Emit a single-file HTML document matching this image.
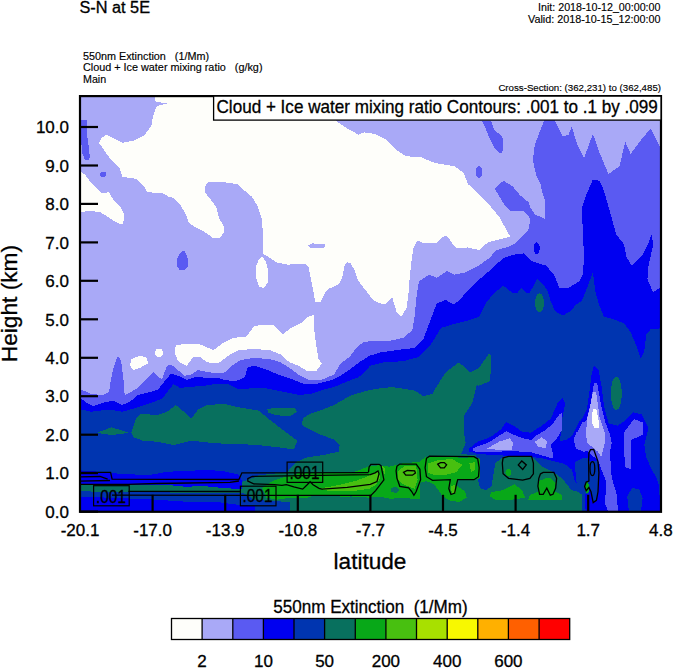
<!DOCTYPE html>
<html><head><meta charset="utf-8"><style>
html,body{margin:0;padding:0;background:#fff;}
svg{display:block;}
text{font-family:"Liberation Sans",sans-serif;fill:#000;stroke:#000;stroke-width:0.3px;}
.sm{stroke-width:0.15px;}
.lb{stroke-width:0.3px;}
</style></head><body>
<svg width="674" height="668" viewBox="0 0 674 668">
<rect x="0" y="0" width="674" height="668" fill="#fff"/>
<defs><clipPath id="pc"><rect x="80" y="96.1" width="581" height="415.70000000000005"/></clipPath></defs>
<g clip-path="url(#pc)" shape-rendering="crispEdges">
<rect x="80" y="96.1" width="581" height="415.70000000000005" fill="#a9a9f7"/>
<polygon fill="#fefefa" points="153.4,90 330,90 336.3,121.3 345.2,127.3 358.5,134.6 364.1,132.4 375,133.9 385.6,139.5 394.5,148.4 405.6,156.2 421.2,157.3 434.5,162.9 454.6,166.2 463.5,172.9 467.9,184 475,190.5 488,203.4 499.1,216.7 510.2,236.7 496.9,240.1 488,242.3 479,250.1 467.9,247.4 456.8,248.3 452.3,243.4 446.8,235.6 441.2,237.8 436.8,243.4 423.4,243.4 417.8,240.1 413.4,247.9 411.2,263.4 409.6,279 408.9,290 406.7,307.8 401.2,316.7 396.7,312.3 392.3,297.8 384.5,304.5 376.7,302.2 373,300 367.4,292.4 360,283.1 357.8,279.5 354.3,269.9 350.7,263.4 347.1,262.2 344.7,265.1 342.3,277.1 338.7,284.3 333.9,286.7 327.9,289.1 324.9,292.7 320.7,302.3 315.3,302.3 312.3,285.5 309.9,273.5 308.7,267.5 305.7,264 287.3,264.6 276.2,262.3 268.4,256.8 263.9,254.5 263.5,253.7 262.8,239 262.6,228.8 261.7,218.1 257.2,205.6 251.9,196.7 242.1,188.7 237.7,184.2 219.9,181.6 208.3,181.6 204.7,186.9 205.6,193.1 212.7,202 216.3,207.4 219,218.1 223.4,225.2 224.3,232.3 219.9,237.7 212.7,237.7 203.8,231.4 194.9,227 188.7,222.5 186,214.5 180.7,205.6 175.3,199.4 170,196.7 168.5,196.7 162.6,193 147.7,192.3 143.3,185.6 135.9,178.9 122.5,176.7 119.5,167.8 109.2,157.4 104,150 98.9,142.8 101.1,138.4 106.7,134.6 113.4,138.4 122.3,142.8 133.4,140.6 144.5,135 151.2,126.2 153.4,115 156.8,106 166.8,103.5 155.7,101.7"/>
<polygon fill="#fefefa" points="75,170.8 80,170.8 85.4,175.2 89.9,181.2 95.8,187.1 101,193 109.2,192.3 113.6,200.4 121,207.9 124,213.8 123.3,224.2 118,223.4 107.7,216.8 100.3,212.3 89.9,210.8 80,212.3 75,212.3"/>
<polygon fill="#fefefa" points="262.5,256.5 266,262 268.4,272 267.5,283 264,288 259,287 256.2,278 256.5,265 259,259"/>
<polygon fill="#fefefa" points="174.6,352.3 175.7,345.6 184.6,343.9 200.2,344.5 213.5,350.1 222.4,343.4 233.9,337.8 246.1,336.7 253.9,326.7 260.6,324.5 272.8,324.5 278.4,330.1 282.9,334.5 289.5,328.9 300.7,323.4 307,317 313.5,315 314,327.8 316.2,345.6 318.5,359 321.8,363.4 316.2,371.2 307.3,371.2 298.4,365.7 289.5,362.3 280.6,354.5 269.5,350.1 253.9,349 238.4,350.1 229.5,355 218,363.4 206.9,362.3 200.2,356.8 193.5,356.8 186.8,365.7 177.9,361.2"/>
<polygon fill="#fefefa" points="131.2,359 140.1,355.7 146.8,357.9 147.9,363.4 140.1,367.9 133.4,370.1 130.1,365.7"/>
<ellipse fill="#fefefa" cx="159" cy="352.8" rx="4" ry="4"/>
<polygon fill="#a9a9f7" points="308.1,245.4 312.3,243.4 324.3,244.2 325.5,246 323.1,248.4 311.1,248.4"/>
<polygon fill="#5a5af2" points="81,119.5 86.7,119.5 87,135 88.5,145 89.9,156.7 89.1,160.4 84.7,159.6 82.5,153.7 81,140"/>
<ellipse fill="#5a5af2" cx="103.2" cy="174.2" rx="3.3" ry="2.6"/>
<polygon fill="#5a5af2" points="482.4,121.3 491.3,121.3 494.6,130.6 502.4,136.2 503.5,148.4 501.3,154 494.6,148.4 489.1,137.3 485.7,128.4"/>
<ellipse fill="#5a5af2" cx="479" cy="171.8" rx="3.3" ry="6"/>
<polygon fill="#5a5af2" points="182.5,250.5 184.5,251.5 187,256 188.4,262 187.5,267.5 184,270.3 179.5,269.5 176.5,265 176.5,260 179,254.5"/>
<polygon fill="#5a5af2" points="494.6,188.5 503.5,180.7 512.4,186.2 520,195.1 528.4,202.2 530.6,207.8 535,214.5 545,218.9 545,201.1 541.7,190 540.6,184 536.1,175.1 532.8,159.5 535,144 543.9,121.3 543.9,90 555.1,90 555.1,121.3 562.8,136.2 568.4,135.1 571.8,126.2 576.2,141.7 584,158.4 592.9,133.9 599.6,152.9 608.5,174 619.6,166.2 625.2,141.7 630.7,154 639.6,141.7 650.8,128.4 661,149.5 670,149.5 670,520 75,520 75,386.8 80,386.8 80.7,389.5 91.4,393.9 102.5,395 109.2,391.7 110,385 113.4,367.9 117.8,355.7 121.2,361.2 123.4,379 124.7,395 131.4,391.7 137.9,387.9 146.8,379 153.4,372.3 157.9,376.8 162.3,379 166.8,365.7 171.2,364.6 177.9,370.1 184.6,375.7 191.3,374.6 198,370.1 209.1,372.3 218,373.5 225,372.3 231.7,365.7 240.6,360.1 253.9,357.9 269.5,359 280.6,362.3 289.5,367.9 298.4,374.6 309.6,380.1 320.7,380.1 334.1,374.6 340.7,363.4 349.6,356.8 356.3,347.9 363,342.3 370,341.2 387.8,341.2 403.4,337.8 412.3,330.1 414.5,316.7 416.7,295 419,281.2 429,274.6 436.8,277.9 446.8,271.2 454.6,274.6 465.7,272.3 476.8,266.8 488,259 496.9,250.1 508,246.8 515,243.4 519.5,239 528.4,230 530.6,218.9 523.9,211.1 510.2,211.1 503.5,203.4"/>
<polygon fill="#0000f0" points="463.5,295 474.6,283.5 490.2,270.1 503.5,257.9 514.7,254.5 523.9,253.4 531.7,261.2 546.2,265.7 553.9,274.6 559.5,287.9 568.4,287.9 579.5,281.2 582.9,274.6 584,256.8 581.8,207.8 586.2,195 592.9,179.6 599.6,180.7 604,190.7 605.1,195 610.7,214.5 616.3,234.5 624.1,244.5 626.3,256.8 631.8,265.7 641.9,255.7 648.5,243.4 651.9,233.4 653,245.6 648.5,265.7 647.4,279 653,292.4 659.7,287.9 670,287 670,520 75,520 75,398 80.7,398.4 86.9,402.8 93.6,406.1 102.5,402.8 113.6,400.6 122.5,405 131.4,400.6 138.1,395 151.4,391.7 158.1,389.5 164.6,381.2 171.2,373.5 177.9,375.7 186.8,380.1 195.7,376.8 206.9,377.9 218,377.9 225,380.1 236.1,381.2 245,376.8 247.3,367.9 253.9,365.7 265.1,369 278.4,374.6 291.8,379 302.9,383.5 318.5,383.5 331.8,380.1 340.7,375.7 351.9,367.9 360.8,361.2 369.7,355.7 381.1,352.3 396.7,350.1 414.5,347.9 423.4,339 430.1,321.2 436.8,303.4 445.7,300 453.5,304.5 461.2,298.9"/>
<ellipse fill="#0000f0" cx="536.7" cy="248.4" rx="3" ry="6"/>
<polygon fill="#0035b0" points="370,365.7 383.4,362.3 403.4,361.2 419,356.8 430.1,345.6 441.2,327.8 452.3,324.5 465.7,321.2 479,316.7 485.7,303.4 494,293 503.5,285.7 512.4,293 517.2,293 521.7,287.9 526,293 529.5,293 537.3,279 543.9,285.7 547.3,290 550.6,301.1 555.1,311.1 562.8,315.6 570.6,311.1 576.2,304.5 581.8,301.1 586.2,290 592.9,272.3 595.1,290 598.5,303.4 604,316.7 612.9,318.9 624.1,323.4 630.7,332.3 636.3,345.6 640.7,359 644.1,352.3 646.3,334.5 650.8,329 670,327.8 670,520 75,520 75,409.5 80.7,409.5 91.4,411.7 109.2,409.5 122.5,411.7 138.1,407.3 151.4,402.8 162.6,398.4 169.2,389.5 173.5,384 180.1,387.9 191.3,386.8 204.6,385.7 218,383.5 228,384 238.4,389 263.7,387.8 285,392 299.4,395 311.2,393.8 322,390 335,386.6 346,382 358.7,377.1 366,371"/>
<polygon fill="#08705e" points="96.9,432.8 111.4,427.3 129.2,432.8 111.4,435.1"/>
<polygon fill="#08705e" points="131.4,432.8 135.9,418.4 140.3,413.9 158.1,415 167,411.7 175.9,405 182.6,410.6 191.5,418.4 198.2,409.5 207.1,405 225,403.9 238.4,407.3 258.4,410.6 269.5,419.5 285.1,431.7 297.3,440.6 294,449.5 278.4,447.3 258.4,445.1 238.4,444 228,444 211.5,442.9 191.5,440.6 173.7,445.1 158.1,441.8 142.5,440.6 133.6,437.3"/>
<polygon fill="#08705e" points="267.3,409.2 275.6,407.5 294.6,408 297,411.6 289.9,416.3 275.6,415.1 268.5,412.8"/>
<ellipse fill="#08705e" cx="539.5" cy="302.8" rx="4.5" ry="9.5"/>
<ellipse fill="#08705e" cx="616.3" cy="393.4" rx="5.5" ry="16.5"/>
<polygon fill="#08705e" points="302.9,418.4 309.6,413.9 322.9,409.5 334.1,405 349.6,396.1 363,391.7 375,389 392.3,387 414.5,390.6 423.4,396.1 432.3,393.9 434.5,390 445.7,372.3 459,362.3 470.1,372.3 479,367.9 489.1,353.4 491.3,355.7 490.2,381.2 479,385.7 476.8,385 472.4,402.8 463.5,416.2 463.5,429.5 465.7,442.9 461.2,454 476,455.4 479.9,465.1 477.9,478.6 479.9,488.2 485.7,490.1 491.4,486.3 493.4,474.7 495.3,463.1 503,457.4 514.6,451.6 525,453 532.8,457.8 541.4,466.3 554.2,472.7 562.7,479.1 571.3,490 582,493 582,520 290.3,520 290.3,502 254.7,500 241.6,492 241.6,482 248.7,479.7 258.2,475.5 272.5,473.7 286.7,472.6 296.2,461.9 307.3,457.3 322.9,455.1 338.5,451.8 339.6,445.1 334.1,439.5 318.5,434 301.8,425.1"/>
<polygon fill="#0000f0" points="75,470 100.3,471.8 122.5,474 149.2,475.1 167,471.8 189.3,470.7 209.2,470 223.9,471.3 238.5,474.6 241.6,480 241.6,489.3 219,487.6 202.6,486 186.3,486.8 170,485.2 75,485"/>
<polygon fill="#08705e" points="75,485 170,485.2 186.3,486.8 202.6,486 219,487.6 241.6,489.3 241.6,492.5 170,492.5 75,491.3"/>
<polygon fill="#0000f0" points="75,496.3 153,499.5 194.5,502.3 219,502.3 238.5,504.8 254.7,506 254.7,520 75,520"/>
<polygon fill="#0000f0" points="468.9,448.8 477.8,441.6 490.3,437.2 501,429.2 506.3,422 513.4,425.6 522.3,431.8 531.2,432.7 541.9,425.6 550.8,418.5 557.9,402.5 562.4,398 565.9,404.2 566.6,417.4 564.4,430.9 570.4,427.9 580.9,420.4 586.8,409.9 589.8,389 591.3,376 594,365 598.5,370 601.8,387.8 604,405.6 608.5,423.4 617.4,425.6 624.1,421.2 633,412.3 641.9,414.5 648.5,427.9 644.4,444.8 646.1,456.8 651.3,468.9 656.4,477.5 659,486.1 661,520 586.2,520 584.1,485.5 575,482 571.9,469.7 564.4,463.8 552.4,461 540.1,457.7 522.3,456.8 495.6,455 477.8,454.1 468.9,451.4"/>
<polygon fill="#0035b0" points="566,400 583,400 580,420 572,436 566,440 560,441 562,420"/>
<polygon fill="#0035b0" points="628.9,511.5 627.2,496.4 632.3,487.8 639.2,489.5 642.6,498.1 640.9,511.5"/>
<polygon fill="#0035b0" points="588.6,461 598,461 598.9,472.4 598,491.8 596.4,500.4 593.2,502.6 591,491.8 588.9,487.5 588.6,470"/>
<polygon fill="#0035b0" points="576.5,462 583,458 588.6,458 588.6,494 580,494 576.5,488"/>
<polygon fill="#08a818" points="584.8,484 587,481.5 588.6,484 588.6,492 586.5,493 584.8,489"/>
<polygon fill="#0035b0" points="575,462 580.9,459.3 586.8,458 589,470 588,480 576,482"/>
<polygon fill="#5a5af2" points="473.4,447.9 486.7,443.4 495.6,438.1 506.3,431 513.4,434.5 522.3,438.1 531.2,439.9 536.6,435.4 545.5,430.1 552.6,423.8 559.7,414 562.4,413.1 562.4,429.2 556.1,439.9 550.8,445.2 552.6,452.3 552.6,458.5 543.7,455.9 531.2,452.3 517,451.4 504.5,451.4 486.7,452.3 473.4,451.4"/>
<polygon fill="#5a5af2" points="573.4,439.8 576.4,432.4 583.8,427.9 587.6,424.9 586.8,442.8 589.8,450.3 583.8,451.8 576.4,448.8"/>
<polygon fill="#5a5af2" points="594,383.4 597.3,383.4 600.7,403.4 604.8,420.7 609.9,434.4 611.7,443 609.9,451.7 611.7,477.5 616.8,494.7 618.5,520 611.7,520 604.8,503.3 606.5,482.6 597.9,460.3 585.8,449.9 575.5,446.5 573.8,439.6 582.4,422.4 586.2,421.2 590.7,403.4"/>
<polygon fill="#5a5af2" points="623.7,432.7 634,418.9 642.6,422.4 643.5,434.4 635.8,437.9 631.5,439.6 630.6,468.9 625.4,467.2 623.7,448.2"/>
<polygon fill="#a9a9f7" points="486.7,448.8 499.2,441.6 509.9,438.1 513.4,443.4 511.6,449.6 495.6,449.6"/>
<polygon fill="#a9a9f7" points="534.8,441.6 541.9,437.2 547.2,441.6 545.5,447.9 538.3,447"/>
<polygon fill="#a9a9f7" points="592.9,392.3 596.2,392.3 599.6,417.2 604.8,432.7 604.8,443 601.3,456.8 597.9,451.7 587.5,443 585.8,434.4 587.5,417.2 590.7,403.4"/>
<polygon fill="#fefefa" points="592.7,408.6 596.2,408.6 598.7,420.7 598.7,427.5 594.4,428.4 591.9,422.4"/>
<polygon fill="#08a818" points="262,488 267.7,484 274.9,480 289.3,475.7 300,472.7 340,472.7 356.1,471.4 362.8,468.7 369.4,466 380.1,465.3 385.5,475.4 390,479.4 390,484.7 382.8,487.4 374.8,492.7 366.8,495.4 346.7,496.7 326.7,496.1 313.4,495.4 306.7,498.1 289.3,497.9 275.8,499.8 266.5,497.5"/>
<polygon fill="#08a818" points="489.5,495.9 491.4,492.1 503,490.1 514.6,484.4 522.3,490.1 525,497.9 510.7,499.8 495.3,499.8"/>
<polygon fill="#08a818" points="538.8,481 545.9,478.3 551.2,478.3 555.7,482.7 554.8,491.6 561.9,495.2 561.9,499.6 528.1,499.6 529.9,495.2 537.9,491.6"/>
<polygon fill="#08a818" points="360.2,470.4 369.7,465.7 382.7,465.7 389.9,466.9 397,466.9 401.7,464.5 411.2,463.9 420,462.1 420,498.9 399.3,497.7 389.9,498.3 375.6,496.5 369.7,497.7 351.9,496.5 340,496 340,480"/>
<polygon fill="#08705e" points="391,488 396,486.5 399,490 396,493 391,492"/>
<polygon fill="#48c010" points="316.3,488 326.7,487.4 340,484.7 356.1,480.7 366.8,476.7 374.8,472.7 378.8,471.4 380.1,478 376.1,484.7 369.4,488.7 356.1,490.7 340,490.7 326.7,490.5"/>
<polygon fill="#48c010" points="382,466 386,470 390,476 386,478"/>
<polygon fill="#08a818" points="385,467.8 396.9,464.8 402.8,463.4 419.1,461.9 425.1,457.4 447.3,455.9 462.2,458.2 474,456.7 480,458.9 480,478.2 474,479.7 457.7,479.7 456.2,485.6 465.1,491.5 466.6,497.5 459.2,501.9 448.8,500.4 441.4,494.5 434,484.1 426.5,481.2 420.6,482.6 419.1,493 414.7,499 399.8,497.5 390.9,499 385,497.5"/>
<polygon fill="#08705e" points="391,488 396,486.5 399,490 396,493 391,492"/>
<polygon fill="#48c010" points="398.4,470.8 404.3,466.3 416.2,466.3 417.6,479.7 414.7,488.6 410.2,487.1 402.8,484.1 398.4,479.7"/>
<polygon fill="#48c010" points="428,463.4 436.9,460.4 451.8,458.9 462.2,464.8 456.2,472.3 444.3,475.2 434,475.2 428,472.3"/>
<polygon fill="#48c010" points="469.5,463.5 475,462 475.5,470 471,472"/>
<polygon fill="#48c010" points="450.5,486 455,485 456,493 452,494"/>
<ellipse fill="#08a818" cx="508.5" cy="472.5" rx="3" ry="3.5"/>
</g>
<g clip-path="url(#pc)" fill="none" stroke="#000" stroke-width="1.3">
<polyline points="75,472.4 110.6,472.4 112.1,479.1 238.9,479.5 241.9,472.8 368.5,472.6"/>
<polyline points="75,477 100,476.5 107.7,479.1"/>
<polyline points="75,481.3 110,480.5"/>
<polyline points="75,484.3 128.4,484.3 156.6,483.5 230,482.4 238.9,481"/>
<polyline points="128.4,491.3 240,491.5"/>
<polyline points="112,495.2 370.9,495.4 375.6,490.6 383.9,479.9 381,465.7 379.2,464.3 370.9,464.3 369.1,466.9 368.5,472.2"/>
<path d="M247.8,478.7 L252.3,476.5 287.1,475.8 370.3,474.7 375.1,472.8 378,470.9 379,473.8 377,481.5 370.3,484.4 347.2,487.3 322.1,489.2 319,488.4 313.1,484.7 310.1,481.7 307.2,484.7 302.7,489.1 293.8,486.9 286.4,484.7 281.9,485.4 274.5,484.7 253.7,483.9 247.8,481 Z"/>
<path d="M396.9,466.3 L399.8,464.1 416.2,464.1 419.9,469.3 420.6,479.7 416.2,491.5 413.9,495.3 411.7,491.5 408.7,487.8 399.8,486.3 396.9,478.2 396.1,470.8 Z"/>
<path d="M403.5,472.3 L407.3,470.5 414.7,470.8 415.4,473 412.4,475.2 405.8,475.2 Z"/>
<path d="M426.5,458.2 L429.5,456.2 474,456.7 477.7,458.9 479.2,467.8 478.5,476.7 474,479.7 457.7,479.7 456.2,485.6 454.7,493 451,494.5 448.8,488.6 450.3,479.7 432.5,480.4 426.5,476.7 425.1,467.8 Z"/>
<path d="M437.7,464.1 L440.6,462.6 444.3,462.6 446.6,464.8 444.3,467.8 440.6,467.8 Z"/>
<path d="M503.1,457.8 L508.5,456.4 531.6,456.4 533.4,463.1 533.4,473.8 529.9,478.3 522.7,480.1 508.5,478.3 503.1,473.8 502.3,463.1 Z"/>
<path d="M518.3,464.9 L521.8,461 526.3,464.9 522.7,469.4 Z"/>
<path d="M540.5,473.8 L543.2,472.4 553.9,472.4 556.6,478.3 555.7,488.1 553,494.3 550.3,495.2 546.8,488.1 543.2,494.3 539.6,494.3 537.9,486.3 538.8,478.3 Z"/>
<path d="M590.5,449.7 L593.7,449.5 598,461.6 598.9,472.4 598,491.8 596.4,500.4 593.2,502.6 591,491.8 588.9,487.5 586.2,490.7 584.6,486.4 586.2,482.1 588.9,481 588.6,461.6 588.9,452.9 Z"/>
<ellipse cx="592.4" cy="468.6" rx="2.4" ry="7"/>
<g stroke-width="1.2">
<rect x="93.6" y="485.7" width="35.6" height="20.1" fill="none"/>
<rect x="240.4" y="486.2" width="35.6" height="19.6" fill="none"/>
<rect x="287.1" y="462.1" width="35.6" height="20.3" fill="none"/>
</g>

</g>
<g font-size="18.8" class="lb">
<text x="289.5" y="478.7" textLength="30" lengthAdjust="spacingAndGlyphs">.001</text>
<text x="242.5" y="502.3" textLength="30" lengthAdjust="spacingAndGlyphs">.001</text>
<text x="96" y="502.5" textLength="30" lengthAdjust="spacingAndGlyphs">.001</text>
</g>
<g stroke="#000" stroke-width="2.2" fill="none">
<line x1="80" y1="511.6" x2="98" y2="511.6"/>
<line x1="80" y1="473.1" x2="98" y2="473.1"/>
<line x1="80" y1="434.7" x2="98" y2="434.7"/>
<line x1="80" y1="396.2" x2="98" y2="396.2"/>
<line x1="80" y1="357.8" x2="98" y2="357.8"/>
<line x1="80" y1="319.3" x2="98" y2="319.3"/>
<line x1="80" y1="280.8" x2="98" y2="280.8"/>
<line x1="80" y1="242.4" x2="98" y2="242.4"/>
<line x1="80" y1="203.9" x2="98" y2="203.9"/>
<line x1="80" y1="165.5" x2="98" y2="165.5"/>
<line x1="80" y1="127" x2="98" y2="127"/>
<line x1="152.6" y1="511.8" x2="152.6" y2="494.8"/>
<line x1="225.2" y1="511.8" x2="225.2" y2="494.8"/>
<line x1="297.8" y1="511.8" x2="297.8" y2="494.8"/>
<line x1="370.4" y1="511.8" x2="370.4" y2="494.8"/>
<line x1="443" y1="511.8" x2="443" y2="494.8"/>
<line x1="515.6" y1="511.8" x2="515.6" y2="494.8"/>
<line x1="588.2" y1="511.8" x2="588.2" y2="494.8"/>
<rect x="80" y="96.1" width="581" height="415.70000000000005"/>
</g>
<rect x="213.6" y="96.1" width="447.4" height="24" fill="#fff" stroke="#000" stroke-width="1.3"/>
<text x="216.5" y="113" font-size="17.8" textLength="441.2" lengthAdjust="spacingAndGlyphs">Cloud + Ice water mixing ratio Contours: .001 to .1 by .099</text>
<g font-size="17">
<text x="69" y="517.8" text-anchor="end">0.0</text>
<text x="69" y="479.3" text-anchor="end">1.0</text>
<text x="69" y="440.9" text-anchor="end">2.0</text>
<text x="69" y="402.4" text-anchor="end">3.0</text>
<text x="69" y="364" text-anchor="end">4.0</text>
<text x="69" y="325.5" text-anchor="end">5.0</text>
<text x="69" y="287" text-anchor="end">6.0</text>
<text x="69" y="248.6" text-anchor="end">7.0</text>
<text x="69" y="210.1" text-anchor="end">8.0</text>
<text x="69" y="171.7" text-anchor="end">9.0</text>
<text x="69" y="133.2" text-anchor="end">10.0</text>
</g>
<g font-size="17">
<text x="80" y="536" text-anchor="middle">-20.1</text>
<text x="152.6" y="536" text-anchor="middle">-17.0</text>
<text x="225.2" y="536" text-anchor="middle">-13.9</text>
<text x="297.8" y="536" text-anchor="middle">-10.8</text>
<text x="370.4" y="536" text-anchor="middle">-7.7</text>
<text x="443" y="536" text-anchor="middle">-4.5</text>
<text x="515.6" y="536" text-anchor="middle">-1.4</text>
<text x="588.2" y="536" text-anchor="middle">1.7</text>
<text x="660.8" y="536" text-anchor="middle">4.8</text>
</g>
<text x="79.5" y="12.7" font-size="16" textLength="70.5" lengthAdjust="spacingAndGlyphs">S-N at 5E</text>
<text x="538" y="11" font-size="11" class="sm" textLength="122.5" lengthAdjust="spacingAndGlyphs">Init: 2018-10-12_00:00:00</text>
<text x="528" y="23.3" font-size="11" class="sm" textLength="132.5" lengthAdjust="spacingAndGlyphs">Valid: 2018-10-15_12:00:00</text>
<text x="83" y="59.8" font-size="10.7" class="sm" textLength="126" lengthAdjust="spacingAndGlyphs" xml:space="preserve">550nm Extinction   (1/Mm)</text>
<text x="83" y="71.3" font-size="10.7" class="sm" textLength="179.5" lengthAdjust="spacingAndGlyphs" xml:space="preserve">Cloud + Ice water mixing ratio   (g/kg)</text>
<text x="83" y="83" font-size="10.7" class="sm">Main</text>
<text x="661" y="91" font-size="9.7" class="sm" text-anchor="end">Cross-Section: (362,231) to (362,485)</text>
<text x="370" y="569.2" font-size="22.6" text-anchor="middle">latitude</text>
<text transform="translate(16.8,303.6) rotate(-90)" font-size="22.7" text-anchor="middle">Height (km)</text>
<text x="273.2" y="612.8" font-size="18" class="lb" textLength="194.5" lengthAdjust="spacingAndGlyphs" xml:space="preserve">550nm Extinction  (1/Mm)</text>
<rect x="171.5" y="618.5" width="30.6" height="21" fill="#fefefa"/>
<rect x="202.1" y="618.5" width="30.6" height="21" fill="#a9a9f7"/>
<rect x="232.8" y="618.5" width="30.6" height="21" fill="#5a5af2"/>
<rect x="263.4" y="618.5" width="30.6" height="21" fill="#0000f0"/>
<rect x="294" y="618.5" width="30.6" height="21" fill="#0035b0"/>
<rect x="324.6" y="618.5" width="30.6" height="21" fill="#08705e"/>
<rect x="355.3" y="618.5" width="30.6" height="21" fill="#08a818"/>
<rect x="385.9" y="618.5" width="30.6" height="21" fill="#48c010"/>
<rect x="416.5" y="618.5" width="30.6" height="21" fill="#a8e000"/>
<rect x="447.2" y="618.5" width="30.6" height="21" fill="#f8f800"/>
<rect x="477.8" y="618.5" width="30.6" height="21" fill="#ffb000"/>
<rect x="508.4" y="618.5" width="30.6" height="21" fill="#ff6000"/>
<rect x="539.1" y="618.5" width="30.6" height="21" fill="#ff0000"/>
<g stroke="#000" stroke-width="1.3" fill="none">
<line x1="202.1" y1="618.5" x2="202.1" y2="639.5"/>
<line x1="232.8" y1="618.5" x2="232.8" y2="639.5"/>
<line x1="263.4" y1="618.5" x2="263.4" y2="639.5"/>
<line x1="294" y1="618.5" x2="294" y2="639.5"/>
<line x1="324.6" y1="618.5" x2="324.6" y2="639.5"/>
<line x1="355.3" y1="618.5" x2="355.3" y2="639.5"/>
<line x1="385.9" y1="618.5" x2="385.9" y2="639.5"/>
<line x1="416.5" y1="618.5" x2="416.5" y2="639.5"/>
<line x1="447.2" y1="618.5" x2="447.2" y2="639.5"/>
<line x1="477.8" y1="618.5" x2="477.8" y2="639.5"/>
<line x1="508.4" y1="618.5" x2="508.4" y2="639.5"/>
<line x1="539.1" y1="618.5" x2="539.1" y2="639.5"/>
<rect x="171.5" y="618.5" width="398.2" height="21"/>
</g>
<g font-size="17">
<text x="202.1" y="667" text-anchor="middle">2</text>
<text x="263.4" y="667" text-anchor="middle">10</text>
<text x="324.6" y="667" text-anchor="middle">50</text>
<text x="385.9" y="667" text-anchor="middle">200</text>
<text x="447.2" y="667" text-anchor="middle">400</text>
<text x="508.4" y="667" text-anchor="middle">600</text>
</g>
</svg>
</body></html>
